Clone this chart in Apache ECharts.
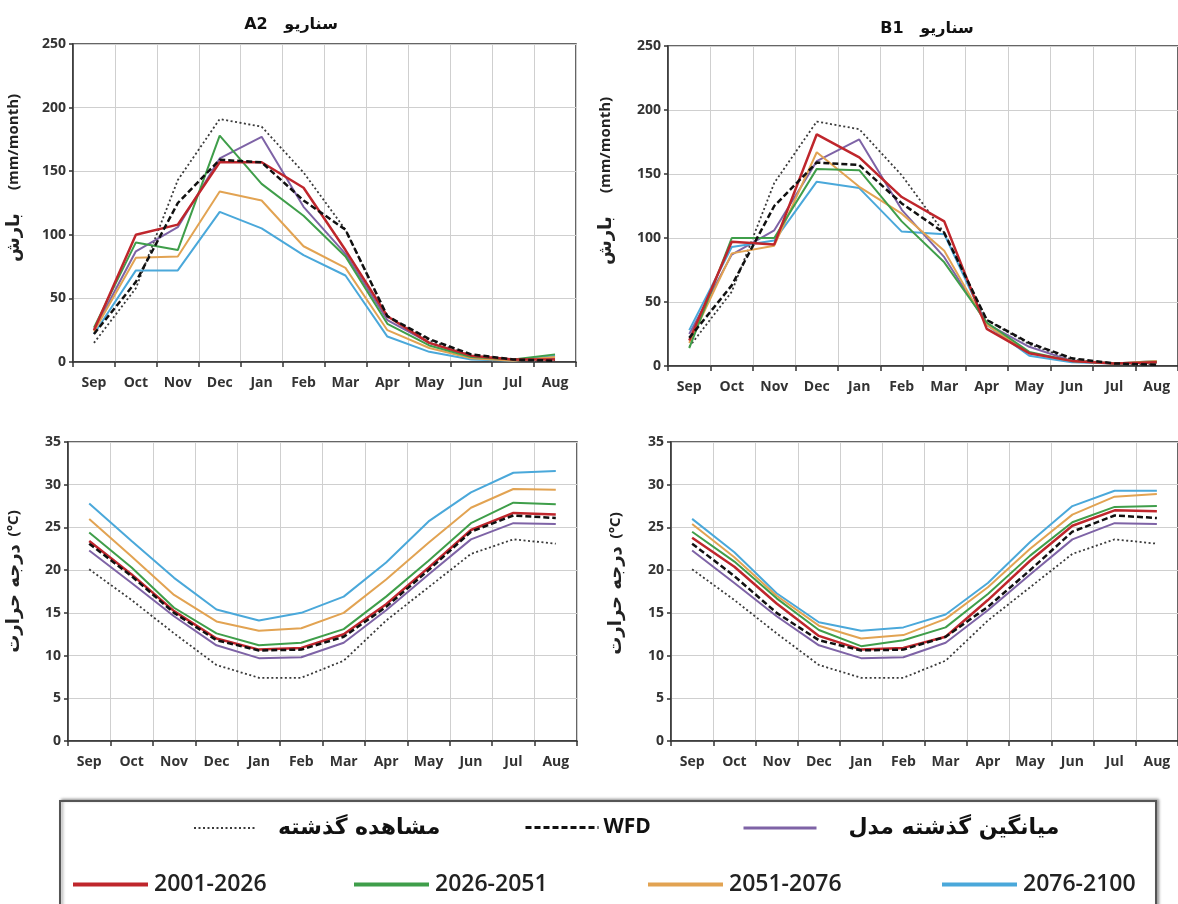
<!DOCTYPE html>
<html>
<head>
<meta charset="utf-8">
<script src="https://cdn.jsdelivr.net/npm/echarts@6/dist/echarts.min.js"></script>
<style>
html,body{margin:0;padding:0;background:#fff;}
#chart{width:1178px;height:904px;}
</style>
</head>
<body>
<div id="chart"></div>
<script>
// ---- categories & ticks ----
const months = ['Sep','Oct','Nov','Dec','Jan','Feb','Mar','Apr','May','Jun','Jul','Aug'];
const precipTicks = {min:0, max:250, interval:50};
const tempTicks = {min:0, max:35, interval:5};

// ---- series names ----
const nameObs = 'مشاهده گذشته';
const nameWFD = 'WFD';
const nameModel = 'میانگین گذشته مدل';
const periods = ['2001-2026','2026-2051','2051-2076','2076-2100'];

// ---- precipitation (mm/month) ----
const precipObs   = [15, 58, 143, 191, 185, 149, 104, 36, 17, 5, 2, 1];
const precipWFD   = [22, 63, 125, 159, 157, 127, 104, 36, 18, 6, 2, 1];
const precipModel = [25, 87, 106, 160, 177, 122, 85, 33, 15, 4, 2, 3];

const precipA2_2001 = [25, 100, 108, 157, 157, 137, 88, 36, 15, 5, 2, 2];
const precipA2_2026 = [27, 94, 88, 178, 140, 115, 83, 30, 13, 4, 2, 6];
const precipA2_2051 = [24, 82, 83, 134, 127, 91, 74, 25, 11, 3, 1, 4];
const precipA2_2076 = [22, 72, 72, 118, 105, 84, 68, 20, 8, 2, 1, 5];

const precipB1_2001 = [20, 97, 95, 181, 163, 132, 113, 29, 10, 4, 2, 3];
const precipB1_2026 = [14, 100, 100, 154, 153, 113, 81, 34, 11, 4, 2, 3];
const precipB1_2051 = [18, 88, 94, 167, 140, 119, 90, 32, 10, 4, 2, 4];
const precipB1_2076 = [28, 93, 98, 144, 139, 105, 103, 32, 8, 3, 2, 4];

// ---- temperature (°C) ----
const tempObs   = [20.1, 16.5, 12.6, 8.9, 7.4, 7.4, 9.4, 14.1, 18.0, 21.9, 23.6, 23.1];
const tempWFD   = [23.1, 19.3, 15.0, 11.8, 10.6, 10.7, 12.2, 15.7, 20.0, 24.5, 26.4, 26.1];
const tempModel = [22.3, 18.5, 14.6, 11.2, 9.7, 9.8, 11.5, 15.3, 19.5, 23.6, 25.5, 25.4];

const tempA2_2001 = [23.4, 19.5, 15.2, 12.0, 10.7, 10.9, 12.5, 16.0, 20.3, 24.7, 26.7, 26.5];
const tempA2_2026 = [24.4, 20.3, 15.6, 12.6, 11.2, 11.5, 13.1, 16.9, 21.1, 25.5, 27.9, 27.7];
const tempA2_2051 = [26.0, 21.6, 17.1, 14.0, 12.9, 13.2, 15.0, 18.9, 23.2, 27.3, 29.5, 29.4];
const tempA2_2076 = [27.8, 23.4, 19.1, 15.4, 14.1, 15.0, 16.9, 20.9, 25.7, 29.1, 31.4, 31.6];

const tempB1_2001 = [23.8, 20.4, 16.1, 12.3, 10.7, 10.9, 12.2, 16.5, 21.1, 25.2, 27.0, 26.9];
const tempB1_2026 = [24.5, 21.0, 16.7, 13.0, 11.1, 11.8, 13.3, 17.2, 21.7, 25.6, 27.4, 27.5];
const tempB1_2051 = [25.4, 21.5, 17.0, 13.5, 12.0, 12.4, 14.3, 18.0, 22.5, 26.5, 28.6, 28.9];
const tempB1_2076 = [26.0, 22.1, 17.3, 13.9, 12.9, 13.3, 14.8, 18.5, 23.3, 27.5, 29.3, 29.3];

// ---- axis titles ----
const precipNameFa = 'بارش', precipUnit = '(mm/month)';
const tempNameFa = 'درجه حرارت', tempUnit = '(°C)';

// ---- styling ----
const colObs = '#3a3a3a', colWFD = '#111111', colModel = '#7e63a6';
const periodColors = ['#bf262c', '#3f9e4a', '#e2a352', '#4aa8da'];
const numFont = 'Open Sans';
const faFont = 'DejaVu Sans';

const grids = [
  {left:73, top:44, width:503, height:318},
  {left:668, top:46, width:510, height:320},
  {left:68, top:442, width:509, height:299},
  {left:671, top:442, width:507, height:299}
];

const panels = [
  {ticks:precipTicks, obs:precipObs, wfd:precipWFD, model:precipModel,
   per:[precipA2_2001, precipA2_2026, precipA2_2051, precipA2_2076],
   fa:precipNameFa, unit:precipUnit, sp:'      ', gap:50, pad:[0,0,0,50]},
  {ticks:precipTicks, obs:precipObs, wfd:precipWFD, model:precipModel,
   per:[precipB1_2001, precipB1_2026, precipB1_2051, precipB1_2076],
   fa:precipNameFa, unit:precipUnit, sp:'      ', gap:53, pad:[0,0,0,50]},
  {ticks:tempTicks, obs:tempObs, wfd:tempWFD, model:tempModel,
   per:[tempA2_2001, tempA2_2026, tempA2_2051, tempA2_2076],
   fa:tempNameFa, unit:tempUnit, sp:'  ', gap:45, pad:[0,0,0,20]},
  {ticks:tempTicks, obs:tempObs, wfd:tempWFD, model:tempModel,
   per:[tempB1_2001, tempB1_2026, tempB1_2051, tempB1_2076],
   fa:tempNameFa, unit:tempUnit, sp:'  ', gap:46, pad:[0,0,0,16]}
];

const xAxes = [], yAxes = [], series = [];
panels.forEach((p, i) => {
  xAxes.push({
    type:'category', gridIndex:i, data:months, boundaryGap:true,
    axisLine:{show:true, lineStyle:{color:'#333', width:1.5}},
    axisTick:{show:true, length:5, lineStyle:{color:'#333', width:1.5}},
    axisLabel:{color:'#333', fontSize:14, fontWeight:'bold', fontFamily:numFont, margin:14},
    splitLine:{show:true, lineStyle:{color:'#cfcfcf', width:1}}
  });
  yAxes.push({
    type:'value', gridIndex:i, min:p.ticks.min, max:p.ticks.max, interval:p.ticks.interval,
    name:'{fa|' + p.fa + '}{en|' + p.sp + p.unit + '}', nameLocation:'middle', nameRotate:90, nameGap:p.gap,
    nameTextStyle:{color:'#222', padding:p.pad,
      rich:{
        fa:{fontSize:18, fontWeight:'bold', fontFamily:faFont, color:'#222'},
        en:{fontSize:15, fontWeight:'bold', fontFamily:numFont, color:'#222'}
      }},
    axisLine:{show:true, lineStyle:{color:'#333', width:1.5}},
    axisTick:{show:true, length:4, lineStyle:{color:'#333', width:1.5}},
    axisLabel:{color:'#333', fontSize:14, fontWeight:'bold', fontFamily:numFont, margin:7},
    splitLine:{show:true, lineStyle:{color:'#cfcfcf', width:1}}
  });
  const mk = (name, data, color, width, type, z) => ({
    type:'line', name, data, xAxisIndex:i, yAxisIndex:i, symbol:'none', showSymbol:false,
    lineStyle:{color, width, type}, itemStyle:{color}, z, animation:false
  });
  series.push(mk(nameObs, p.obs, colObs, 1.8, [2,2.5], 3));
  series.push(mk(nameModel, p.model, colModel, 2, 'solid', 3));
  for (let k = 3; k >= 0; k--) {
    series.push(mk(periods[k], p.per[k], periodColors[k], k === 0 ? 2.5 : 2, 'solid', 3));
  }
  series.push(mk(nameWFD, p.wfd, colWFD, 2.5, [6,3], 4));
});

const faLegendText = {color:'#111', fontSize:22, fontWeight:'bold', fontFamily:faFont};
const enLegendText = {color:'#111', fontSize:21, fontWeight:'bold', fontFamily:numFont};
const numLegendText = {color:'#222', fontSize:23, fontWeight:600, fontFamily:numFont};
const mkLegend = (name, left, top, w, text, pad, lw) => ({
  data:[name], left, top, padding:0, itemWidth:w, itemHeight:14, itemGap:0,
  selectedMode:false,
  itemStyle:{opacity:0, borderWidth:0},
  lineStyle:{width:lw},
  textStyle:Object.assign({}, text, {padding:pad})
});

const option = {
  backgroundColor:'#fff',
  animation:false,
  title:[
    {text:'A2   سناریو', left:286, top:12, textAlign:'center',
     textStyle:{fontSize:16, fontWeight:'bold', color:'#111', fontFamily:faFont}},
    {text:'B1   سناریو', left:922, top:16, textAlign:'center',
     textStyle:{fontSize:16, fontWeight:'bold', color:'#111', fontFamily:faFont}}
  ],
  grid:grids.map(g => Object.assign({show:true, borderColor:'#333', borderWidth:1.5, backgroundColor:'transparent'}, g)),
  xAxis:xAxes,
  yAxis:yAxes,
  series,
  legend:[
    mkLegend(nameObs, 193, 817, 62, faLegendText, [0,0,0,17], 2),
    mkLegend(nameWFD, 524, 817, 73, enLegendText, [0,0,0,0], 3),
    mkLegend(nameModel, 742, 817, 73, faLegendText, [0,0,0,27], 3),
    mkLegend(periods[0], 71, 873, 75, numLegendText, [0,0,0,1], 4),
    mkLegend(periods[1], 352, 873, 75, numLegendText, [0,0,0,1], 4),
    mkLegend(periods[2], 646, 873, 75, numLegendText, [0,0,0,1], 4),
    mkLegend(periods[3], 940, 873, 75, numLegendText, [0,0,0,1], 4)
  ],
  graphic:[
    {type:'rect', z:-1, shape:{x:60, y:801, width:1096, height:130},
     style:{fill:'#fff', stroke:'#555', lineWidth:2,
            shadowBlur:3, shadowColor:'rgba(0,0,0,0.35)', shadowOffsetX:2, shadowOffsetY:-1}}
  ]
};

const chart = echarts.init(document.getElementById('chart'), null, {renderer:'canvas'});
chart.setOption(option);
</script>
</body>
</html>
